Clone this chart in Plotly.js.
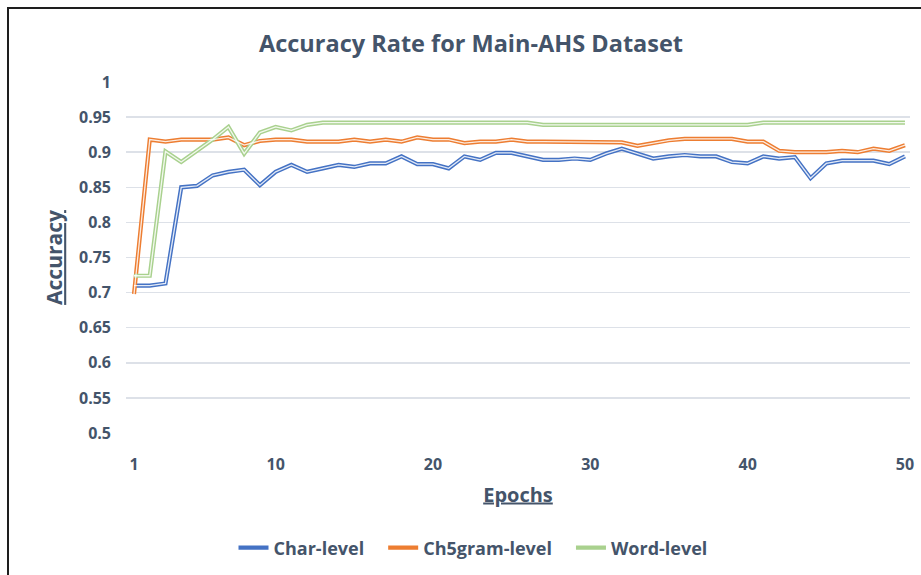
<!DOCTYPE html>
<html>
<head>
<meta charset="utf-8">
<script src="https://cdn.plot.ly/plotly-3.0.1.min.js"></script>
<style>
  html, body { margin: 0; padding: 0; background: #ffffff; }
  #chart { position: absolute; left: 0; top: 0; width: 921px; height: 575px; }
  #frame { position: absolute; left: 7px; top: 7px; width: 930px; height: 600px;
           border-top: 2px solid #1e1e1e; border-left: 2px solid #1e1e1e; pointer-events: none; }
</style>
</head>
<body>
<div id="chart"></div>
<div id="frame"></div>
<script>
const epochs = [1,2,3,4,5,6,7,8,9,10,11,12,13,14,15,16,17,18,19,20,21,22,23,24,25,
                26,27,28,29,30,31,32,33,34,35,36,37,38,39,40,41,42,43,44,45,46,47,48,49,50];
const xTickVals = [1, 10, 20, 30, 40, 50];
const yTickVals = [0.5, 0.55, 0.6, 0.65, 0.7, 0.75, 0.8, 0.85, 0.9, 0.95, 1];

const charLevel = [0.710,0.710,0.713,0.850,0.852,0.867,0.872,0.875,0.853,0.872,
                   0.882,0.872,0.877,0.882,0.879,0.884,0.884,0.894,0.883,0.883,
                   0.877,0.894,0.889,0.899,0.899,0.894,0.889,0.889,0.891,0.889,
                   0.898,0.905,0.898,0.891,0.894,0.896,0.894,0.894,0.886,0.884,
                   0.894,0.891,0.893,0.863,0.884,0.888,0.888,0.888,0.883,0.894];
const ch5gramLevel = [0.698,0.918,0.915,0.918,0.918,0.918,0.921,0.910,0.916,0.918,
                      0.918,0.915,0.915,0.915,0.918,0.915,0.918,0.915,0.921,0.918,
                      0.918,0.913,0.915,0.915,0.918,0.915,0.915,0.915,0.915,0.915,
                      0.914,0.914,0.909,0.913,0.917,0.919,0.919,0.919,0.919,0.915,
                      0.915,0.902,0.900,0.900,0.900,0.902,0.900,0.905,0.902,0.910];
const wordLevel = [0.724,0.724,0.901,0.886,0.902,0.918,0.936,0.898,0.928,0.936,
                   0.931,0.939,0.942,0.942,0.942,0.942,0.942,0.942,0.942,0.942,
                   0.942,0.942,0.942,0.942,0.942,0.942,0.939,0.939,0.939,0.939,
                   0.939,0.939,0.939,0.939,0.939,0.939,0.939,0.939,0.939,0.939,
                   0.942,0.942,0.942,0.942,0.942,0.942,0.942,0.942,0.942,0.942];

const seriesNames = ['Char-level', 'Ch5gram-level', 'Word-level'];
const seriesData = [charLevel, ch5gramLevel, wordLevel];
const seriesColors = ['#4472c4', '#ed7d31', '#a9d18e'];

const textColor = '#44546a';
const fontFam = '"Open Sans", "Noto Sans", sans-serif';
const pad = '\u00a0\u00a0\u00a0';

const traces = [];
seriesData.forEach((vals, i) => {
  traces.push({
    x: epochs, y: vals, type: 'scatter', mode: 'lines',
    name: seriesNames[i] + (i < seriesNames.length - 1 ? pad : ''),
    line: { color: seriesColors[i], width: 4.2 }, hoverinfo: 'x+y+name'
  });
});
seriesData.forEach((vals, i) => {
  traces.push({
    x: epochs, y: vals, type: 'scatter', mode: 'lines', showlegend: false,
    line: { color: 'rgba(255,255,255,0.85)', width: 1.3 }, hoverinfo: 'skip'
  });
});

const layout = {
  width: 921, height: 575,
  paper_bgcolor: '#ffffff', plot_bgcolor: '#ffffff',
  margin: { l: 126, r: 11, t: 82, b: 142 },
  font: { family: fontFam, color: textColor },
  title: {
    text: 'Accuracy Rate for Main-AHS Dataset',
    font: { family: fontFam, size: 23.5, color: textColor, weight: 700 },
    x: 471 / 921, xref: 'container', xanchor: 'center',
    y: 1 - 44 / 575, yref: 'container', yanchor: 'middle'
  },
  xaxis: {
    range: [0.49, 50.32], tickmode: 'array', tickvals: xTickVals,
    ticktext: xTickVals.map(String),
    showgrid: false, zeroline: false, showline: false, ticks: '',
    ticklabelstandoff: 20,
    tickfont: { family: fontFam, size: 16, color: textColor, weight: 700 },
    title: { text: 'Epochs', standoff: 13,
             font: { family: fontFam, size: 20, color: textColor, weight: 700, lineposition: 'under' } }
  },
  yaxis: {
    range: [0.5, 1], tickmode: 'array', tickvals: yTickVals,
    ticktext: yTickVals.map(v => String(v)),
    showgrid: true, gridcolor: '#dde1e8', gridwidth: 1.5,
    zeroline: false, showline: false, ticks: '',
    ticklabelstandoff: 14,
    tickfont: { family: fontFam, size: 16, color: textColor, weight: 700 },
    title: { text: 'Accuracy', standoff: 10,
             font: { family: fontFam, size: 21, color: textColor, weight: 700, lineposition: 'under' } }
  },
  legend: {
    orientation: 'h', x: 473 / 921, xref: 'container', xanchor: 'center',
    y: 1 - 548 / 575, yref: 'container', yanchor: 'middle',
    font: { family: fontFam, size: 18, color: textColor, weight: 700 },
    itemwidth: 30, tracegroupgap: 0
  },
  showlegend: true
};

Plotly.newPlot('chart', traces, layout, { displayModeBar: false, staticPlot: true });
</script>
</body>
</html>
